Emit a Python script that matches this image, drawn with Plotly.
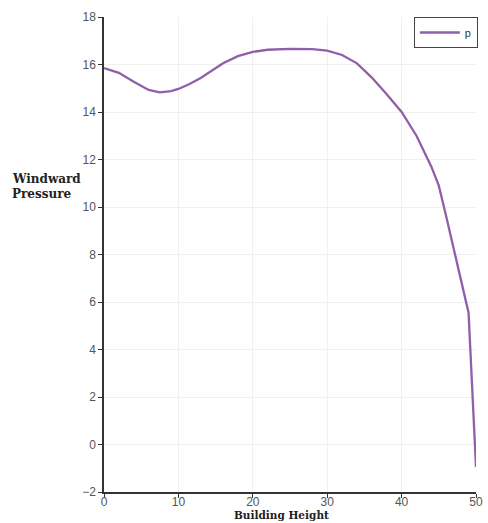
import plotly.graph_objects as go

height = [0, 2, 4, 6, 7.5, 9, 10, 11.5, 13, 14.5, 16, 18, 20, 22, 25, 28, 30, 32, 34, 36, 38, 40, 42, 44, 45, 46, 47, 48, 49, 50]
pressure = [15.85, 15.65, 15.27, 14.93, 14.83, 14.88, 14.97, 15.18, 15.43, 15.74, 16.05, 16.35, 16.53, 16.62, 16.66, 16.65, 16.58, 16.4, 16.05, 15.45, 14.75, 14.0, 13.0, 11.7, 10.9, 9.6, 8.3, 6.9, 5.55, -0.95]

fig = go.Figure()
fig.add_trace(go.Scatter(x=height, y=pressure, mode="lines", name="p",
                         line=dict(color="#8f5fa9", width=2.3)))

axis_common = dict(showline=True, linecolor="#333", linewidth=1.5, ticks="outside",
                   ticklen=4, tickcolor="#333", showgrid=True, gridcolor="#f0f0f0",
                   zeroline=False, automargin=False,
                   tickfont=dict(family="Liberation Sans", size=12, color="#555"))

fig.update_layout(
    width=488, height=523,
    margin=dict(l=104, r=10, t=17, b=31),
    plot_bgcolor="white", paper_bgcolor="white",
    xaxis=dict(range=[0, 50], dtick=10, ticklabelstandoff=-6, **axis_common),
    yaxis=dict(range=[-2, 18], dtick=2, **axis_common),
    legend=dict(x=1.005, y=1, xanchor="right", yanchor="top", bordercolor="#444", borderwidth=1,
                bgcolor="white", itemwidth=40, tracegroupgap=0,
                font=dict(family="Liberation Sans", size=11, color="#333")),
    showlegend=True,
    annotations=[
        dict(text="<b>Windward</b>", xref="paper", yref="paper",
             x=-0.252, y=0.659, xanchor="left", yanchor="middle",
             showarrow=False, font=dict(family="DejaVu Serif", size=12, color="#222")),
        dict(text="<b>Pressure</b>", xref="paper", yref="paper",
             x=-0.252, y=0.627, xanchor="left", yanchor="middle",
             showarrow=False, font=dict(family="DejaVu Serif", size=12, color="#222")),
        dict(text="<b>Building Height</b>", xref="paper", yref="paper",
             x=0.476, y=-31 / 475, yshift=1, xanchor="center", yanchor="bottom",
             borderpad=0,
             showarrow=False, font=dict(family="DejaVu Serif", size=10.5, color="#222")),
    ],
)

fig.write_html("out.html", config={"displayModeBar": False},
               post_script="document.body.style.margin='0';document.body.style.overflow='hidden';")
